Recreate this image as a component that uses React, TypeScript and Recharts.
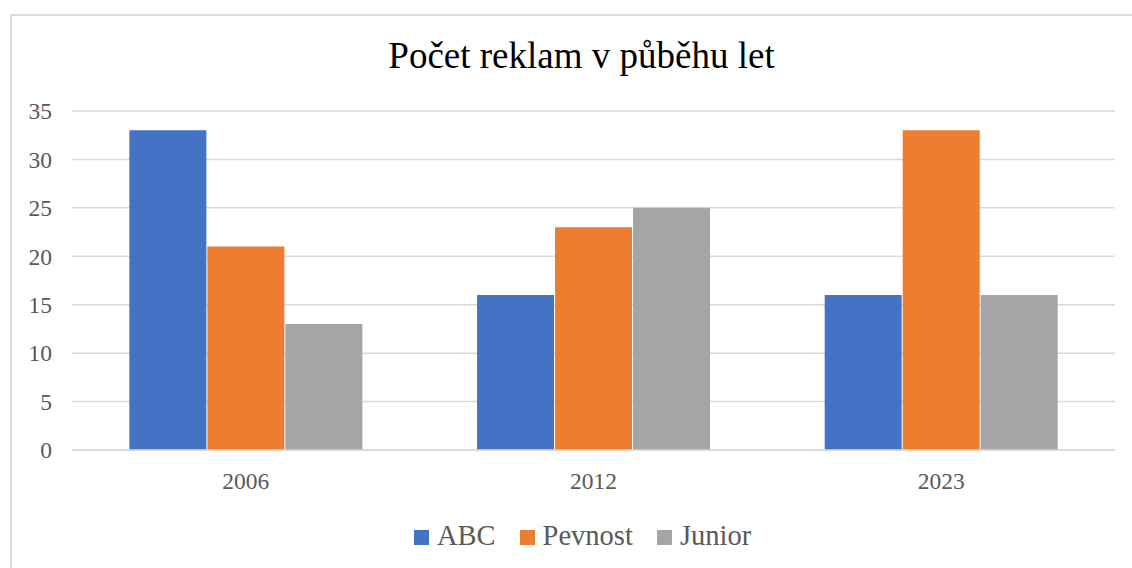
import React from 'react';
import { BarChart, Bar, XAxis, YAxis, CartesianGrid, Legend } from 'recharts';

const categories = ['2006', '2012', '2023'];
const abcValues = [33, 16, 16];
const pevnostValues = [21, 23, 33];
const juniorValues = [13, 25, 16];
const yTicks = [0, 5, 10, 15, 20, 25, 30, 35];
const seriesNames = ['ABC', 'Pevnost', 'Junior'];
const seriesColors = ['#4472C4', '#ED7D31', '#A5A5A5'];

const data = categories.map((c, i) => ({
  year: c,
  ABC: abcValues[i],
  Pevnost: pevnostValues[i],
  Junior: juniorValues[i],
}));

const FONT = '"Liberation Serif", "Times New Roman", serif';

const LegendContent = () => (
  <div style={{ display: 'flex', alignItems: 'center', fontFamily: FONT, fontSize: 28.5, color: '#595959', lineHeight: '30px' }}>
    {seriesNames.map((n, i) => (
      <div key={n} style={{ display: 'flex', alignItems: 'center', marginRight: 24 }}>
        <div style={{ width: 15, height: 15, background: seriesColors[i], marginRight: 8, marginTop: 2 }} />
        <span>{n}</span>
      </div>
    ))}
  </div>
);

export default function App() {
  return (
    <div style={{ position: 'absolute', left: 0, top: 0, width: 1132, height: 568, overflow: 'hidden', background: '#fff' }}>
      <div style={{ position: 'absolute', left: 10, top: 14, width: 1300, height: 700, border: '2px solid #d9d9d9', boxSizing: 'border-box' }} />
      <div style={{ position: 'absolute', left: 0, top: 34, width: 1163, textAlign: 'center', fontFamily: FONT, fontSize: 37, color: '#000', lineHeight: '44px' }}>
        Počet reklam v půběhu let
      </div>
      <div style={{ position: 'absolute', left: 0, top: 0 }}>
        <BarChart width={1132} height={568} data={data} margin={{ top: 111, right: 17, left: 2, bottom: 88 }} barCategoryGap="16.5%" barGap={1}>
          <CartesianGrid vertical={false} stroke="#d9d9d9" strokeWidth={1.5} />
          <XAxis dataKey="year" height={30} tickLine={false} axisLine={{ stroke: '#d9d9d9', strokeWidth: 1.5 }} tickSize={0} tickMargin={22} tick={{ fill: '#595959', fontSize: 23.5, fontFamily: FONT }} />
          <YAxis width={70} domain={[0, 35]} ticks={yTicks} tickLine={false} axisLine={false} tickSize={0} tickMargin={20} tick={{ fill: '#595959', fontSize: 23.5, fontFamily: FONT }} />
          <Legend layout="horizontal" verticalAlign="middle" align="center" wrapperStyle={{ top: 521, left: 414, width: 500 }} content={<LegendContent />} />
          {seriesNames.map((n, i) => (
            <Bar key={n} dataKey={n} fill={seriesColors[i]} isAnimationActive={false} />
          ))}
        </BarChart>
      </div>
    </div>
  );
}
